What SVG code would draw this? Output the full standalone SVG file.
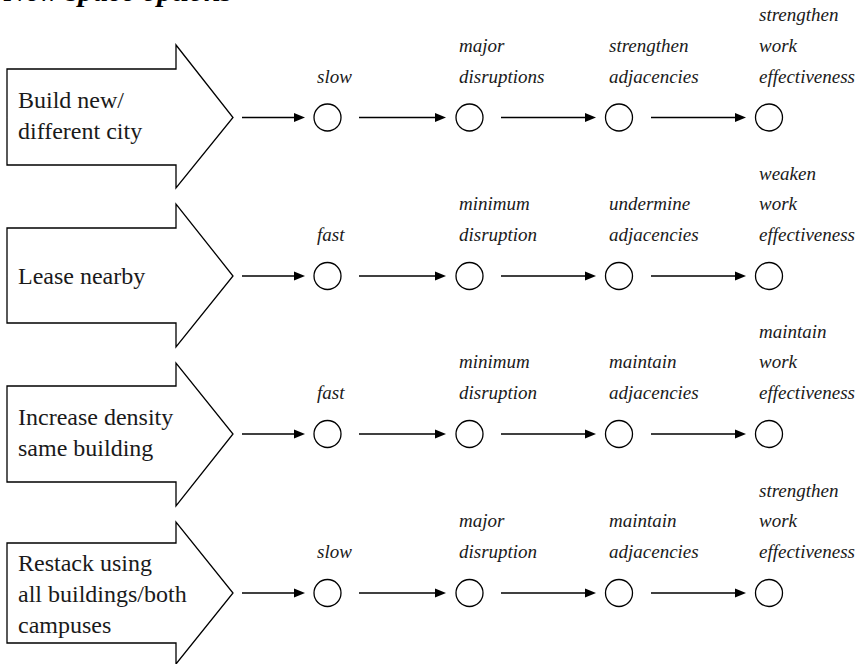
<svg xmlns="http://www.w3.org/2000/svg" width="857" height="664" viewBox="0 0 857 664">
  <style>
    .option { fill: #ffffff; stroke: #000000; stroke-width: 1.3; }
    .step { fill: #ffffff; stroke: #000000; stroke-width: 1.3; }
    .link { stroke: #000000; stroke-width: 1.3; fill: none; }
    .tip { fill: #000000; stroke: none; }
    .opt-label { font-size: 24px; fill: #1a1a1a; }
    .note { font-size: 19px; font-style: italic; fill: #1a1a1a; }
    .title { font-size: 30px; font-style: italic; font-weight: bold; fill: #000000; }
    .serif { font-family: 'Liberation Serif', 'Noto Serif', 'DejaVu Serif', serif; }
  </style>
  <rect x="0" y="0" width="857" height="664" fill="#ffffff"/>

  <text class="title" x="4" y="1" font-family="Liberation Serif, serif">New space options</text>

  <g id="opt-build">
    <path class="option" d="M7,69 H176 V45 L233,117.5 L176,188 V165 H7 Z"/>
    <g><text class="opt-label serif" x="18" y="108" font-family="Liberation Serif, serif"><tspan class="serif" style="font-family:'Liberation Serif',serif">Build new/</tspan></text>
    <text class="opt-label serif" x="18" y="139" font-family="Liberation Serif, serif"><tspan class="serif" style="font-family:'Liberation Serif',serif">different city</tspan></text></g>
  </g>
  <g id="opt-lease">
    <path class="option" d="M7,228 H176 V204 L233,276 L176,347 V323 H7 Z"/>
    <g><text class="opt-label serif" x="18" y="284" font-family="Liberation Serif, serif"><tspan class="serif" style="font-family:'Liberation Serif',serif">Lease nearby</tspan></text></g>
  </g>
  <g id="opt-density">
    <path class="option" d="M7,386 H176 V363 L233,434 L176,506 V482 H7 Z"/>
    <g><text class="opt-label serif" x="18" y="425" font-family="Liberation Serif, serif"><tspan class="serif" style="font-family:'Liberation Serif',serif">Increase density</tspan></text>
    <text class="opt-label serif" x="18" y="456" font-family="Liberation Serif, serif"><tspan class="serif" style="font-family:'Liberation Serif',serif">same building</tspan></text></g>
  </g>
  <g id="opt-restack">
    <path class="option" d="M7,543 H176 V522 L233,593 L176,664 V643 H7 Z"/>
    <g><text class="opt-label serif" x="18" y="571" font-family="Liberation Serif, serif"><tspan class="serif" style="font-family:'Liberation Serif',serif">Restack using</tspan></text>
    <text class="opt-label serif" x="18" y="602" font-family="Liberation Serif, serif"><tspan class="serif" style="font-family:'Liberation Serif',serif">all buildings/both</tspan></text>
    <text class="opt-label serif" x="18" y="633" font-family="Liberation Serif, serif"><tspan class="serif" style="font-family:'Liberation Serif',serif">campuses</tspan></text></g>
  </g>

  <g id="row1-speed"><circle class="step" cx="327.5" cy="117.5" r="13.5"/><g><text class="note serif" font-family="Liberation Serif, serif" x="317" y="83"><tspan class="serif" style="font-family:'Liberation Serif',serif">slow</tspan></text></g></g>
  <g id="row1-disruption"><circle class="step" cx="469.5" cy="117.5" r="13.5"/><g><text class="note serif" font-family="Liberation Serif, serif" x="459" y="52"><tspan class="serif" style="font-family:'Liberation Serif',serif">major</tspan></text><text class="note serif" font-family="Liberation Serif, serif" x="459" y="83"><tspan class="serif" style="font-family:'Liberation Serif',serif">disruptions</tspan></text></g></g>
  <g id="row1-adjacency"><circle class="step" cx="619" cy="117.5" r="13.5"/><g><text class="note serif" font-family="Liberation Serif, serif" x="609" y="52"><tspan class="serif" style="font-family:'Liberation Serif',serif">strengthen</tspan></text><text class="note serif" font-family="Liberation Serif, serif" x="609" y="83"><tspan class="serif" style="font-family:'Liberation Serif',serif">adjacencies</tspan></text></g></g>
  <g id="row1-effect"><circle class="step" cx="769" cy="117.5" r="13.5"/><g><text class="note serif" font-family="Liberation Serif, serif" x="759" y="21"><tspan class="serif" style="font-family:'Liberation Serif',serif">strengthen</tspan></text><text class="note serif" font-family="Liberation Serif, serif" x="759" y="52"><tspan class="serif" style="font-family:'Liberation Serif',serif">work</tspan></text><text class="note serif" font-family="Liberation Serif, serif" x="759" y="83"><tspan class="serif" style="font-family:'Liberation Serif',serif">effectiveness</tspan></text></g></g>

  <g id="row2-speed"><circle class="step" cx="327.5" cy="276" r="13.5"/><g><text class="note serif" font-family="Liberation Serif, serif" x="317" y="241"><tspan class="serif" style="font-family:'Liberation Serif',serif">fast</tspan></text></g></g>
  <g id="row2-disruption"><circle class="step" cx="469.5" cy="276" r="13.5"/><g><text class="note serif" font-family="Liberation Serif, serif" x="459" y="210"><tspan class="serif" style="font-family:'Liberation Serif',serif">minimum</tspan></text><text class="note serif" font-family="Liberation Serif, serif" x="459" y="241"><tspan class="serif" style="font-family:'Liberation Serif',serif">disruption</tspan></text></g></g>
  <g id="row2-adjacency"><circle class="step" cx="619" cy="276" r="13.5"/><g><text class="note serif" font-family="Liberation Serif, serif" x="609" y="210"><tspan class="serif" style="font-family:'Liberation Serif',serif">undermine</tspan></text><text class="note serif" font-family="Liberation Serif, serif" x="609" y="241"><tspan class="serif" style="font-family:'Liberation Serif',serif">adjacencies</tspan></text></g></g>
  <g id="row2-effect"><circle class="step" cx="769" cy="276" r="13.5"/><g><text class="note serif" font-family="Liberation Serif, serif" x="759" y="180"><tspan class="serif" style="font-family:'Liberation Serif',serif">weaken</tspan></text><text class="note serif" font-family="Liberation Serif, serif" x="759" y="210"><tspan class="serif" style="font-family:'Liberation Serif',serif">work</tspan></text><text class="note serif" font-family="Liberation Serif, serif" x="759" y="241"><tspan class="serif" style="font-family:'Liberation Serif',serif">effectiveness</tspan></text></g></g>

  <g id="row3-speed"><circle class="step" cx="327.5" cy="434" r="13.5"/><g><text class="note serif" font-family="Liberation Serif, serif" x="317" y="399"><tspan class="serif" style="font-family:'Liberation Serif',serif">fast</tspan></text></g></g>
  <g id="row3-disruption"><circle class="step" cx="469.5" cy="434" r="13.5"/><g><text class="note serif" font-family="Liberation Serif, serif" x="459" y="368"><tspan class="serif" style="font-family:'Liberation Serif',serif">minimum</tspan></text><text class="note serif" font-family="Liberation Serif, serif" x="459" y="399"><tspan class="serif" style="font-family:'Liberation Serif',serif">disruption</tspan></text></g></g>
  <g id="row3-adjacency"><circle class="step" cx="619" cy="434" r="13.5"/><g><text class="note serif" font-family="Liberation Serif, serif" x="609" y="368"><tspan class="serif" style="font-family:'Liberation Serif',serif">maintain</tspan></text><text class="note serif" font-family="Liberation Serif, serif" x="609" y="399"><tspan class="serif" style="font-family:'Liberation Serif',serif">adjacencies</tspan></text></g></g>
  <g id="row3-effect"><circle class="step" cx="769" cy="434" r="13.5"/><g><text class="note serif" font-family="Liberation Serif, serif" x="759" y="338"><tspan class="serif" style="font-family:'Liberation Serif',serif">maintain</tspan></text><text class="note serif" font-family="Liberation Serif, serif" x="759" y="368"><tspan class="serif" style="font-family:'Liberation Serif',serif">work</tspan></text><text class="note serif" font-family="Liberation Serif, serif" x="759" y="399"><tspan class="serif" style="font-family:'Liberation Serif',serif">effectiveness</tspan></text></g></g>

  <g id="row4-speed"><circle class="step" cx="327.5" cy="593" r="13.5"/><g><text class="note serif" font-family="Liberation Serif, serif" x="317" y="558"><tspan class="serif" style="font-family:'Liberation Serif',serif">slow</tspan></text></g></g>
  <g id="row4-disruption"><circle class="step" cx="469.5" cy="593" r="13.5"/><g><text class="note serif" font-family="Liberation Serif, serif" x="459" y="527"><tspan class="serif" style="font-family:'Liberation Serif',serif">major</tspan></text><text class="note serif" font-family="Liberation Serif, serif" x="459" y="558"><tspan class="serif" style="font-family:'Liberation Serif',serif">disruption</tspan></text></g></g>
  <g id="row4-adjacency"><circle class="step" cx="619" cy="593" r="13.5"/><g><text class="note serif" font-family="Liberation Serif, serif" x="609" y="527"><tspan class="serif" style="font-family:'Liberation Serif',serif">maintain</tspan></text><text class="note serif" font-family="Liberation Serif, serif" x="609" y="558"><tspan class="serif" style="font-family:'Liberation Serif',serif">adjacencies</tspan></text></g></g>
  <g id="row4-effect"><circle class="step" cx="769" cy="593" r="13.5"/><g><text class="note serif" font-family="Liberation Serif, serif" x="759" y="497"><tspan class="serif" style="font-family:'Liberation Serif',serif">strengthen</tspan></text><text class="note serif" font-family="Liberation Serif, serif" x="759" y="527"><tspan class="serif" style="font-family:'Liberation Serif',serif">work</tspan></text><text class="note serif" font-family="Liberation Serif, serif" x="759" y="558"><tspan class="serif" style="font-family:'Liberation Serif',serif">effectiveness</tspan></text></g></g>

  <g id="connectors">
    <line class="link" x1="242" y1="117.5" x2="295" y2="117.5"/><polygon class="tip" points="294,113 305,117.5 294,122"/>
    <line class="link" x1="359" y1="117.5" x2="436" y2="117.5"/><polygon class="tip" points="435,113 446,117.5 435,122"/>
    <line class="link" x1="501" y1="117.5" x2="586" y2="117.5"/><polygon class="tip" points="585,113 596,117.5 585,122"/>
    <line class="link" x1="651" y1="117.5" x2="736" y2="117.5"/><polygon class="tip" points="735,113 746,117.5 735,122"/>

    <line class="link" x1="242" y1="276" x2="295" y2="276"/><polygon class="tip" points="294,271.5 305,276 294,280.5"/>
    <line class="link" x1="359" y1="276" x2="436" y2="276"/><polygon class="tip" points="435,271.5 446,276 435,280.5"/>
    <line class="link" x1="501" y1="276" x2="586" y2="276"/><polygon class="tip" points="585,271.5 596,276 585,280.5"/>
    <line class="link" x1="651" y1="276" x2="736" y2="276"/><polygon class="tip" points="735,271.5 746,276 735,280.5"/>

    <line class="link" x1="242" y1="434" x2="295" y2="434"/><polygon class="tip" points="294,429.5 305,434 294,438.5"/>
    <line class="link" x1="359" y1="434" x2="436" y2="434"/><polygon class="tip" points="435,429.5 446,434 435,438.5"/>
    <line class="link" x1="501" y1="434" x2="586" y2="434"/><polygon class="tip" points="585,429.5 596,434 585,438.5"/>
    <line class="link" x1="651" y1="434" x2="736" y2="434"/><polygon class="tip" points="735,429.5 746,434 735,438.5"/>

    <line class="link" x1="242" y1="593" x2="295" y2="593"/><polygon class="tip" points="294,588.5 305,593 294,597.5"/>
    <line class="link" x1="359" y1="593" x2="436" y2="593"/><polygon class="tip" points="435,588.5 446,593 435,597.5"/>
    <line class="link" x1="501" y1="593" x2="586" y2="593"/><polygon class="tip" points="585,588.5 596,593 585,597.5"/>
    <line class="link" x1="651" y1="593" x2="736" y2="593"/><polygon class="tip" points="735,588.5 746,593 735,597.5"/>
  </g>
</svg>
